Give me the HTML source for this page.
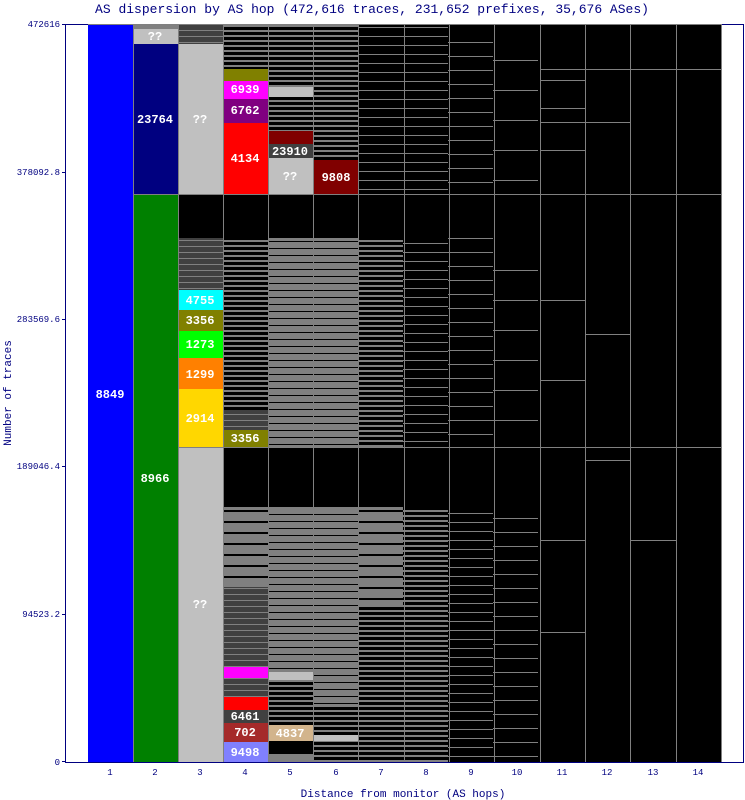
<!DOCTYPE html>
<html><head><style>
html,body{margin:0;padding:0;background:#fff;}
svg{display:block;font-family:"Liberation Mono","DejaVu Sans Mono",monospace;}
.l{fill:#fff;font-weight:bold;font-size:12px;text-anchor:middle;}
.a{fill:#000080;font-size:9px;}
</style></head><body>
<svg width="745" height="800" viewBox="0 0 745 800" xmlns="http://www.w3.org/2000/svg">
<defs>
<pattern id="pb" width="45" height="9" patternUnits="userSpaceOnUse"><rect width="45" height="9" fill="#000"/><rect y="0" width="45" height="1" fill="#808080"/></pattern>
<pattern id="pb2" width="45" height="5" patternUnits="userSpaceOnUse"><rect width="45" height="5" fill="#000"/><rect y="0" width="45" height="2" fill="#808080"/></pattern>
<pattern id="pg" width="45" height="7" patternUnits="userSpaceOnUse"><rect width="45" height="7" fill="#808080"/><rect y="3" width="45" height="1" fill="#000"/></pattern>
<pattern id="pg2" width="45" height="11" patternUnits="userSpaceOnUse"><rect width="45" height="11" fill="#808080"/><rect y="4" width="45" height="2" fill="#000"/></pattern>
<pattern id="pd" width="45" height="6" patternUnits="userSpaceOnUse"><rect width="45" height="6" fill="#404040"/><rect y="0" width="45" height="1" fill="#808080"/></pattern>
<pattern id="pbs" width="45" height="14" patternUnits="userSpaceOnUse"><rect width="45" height="14" fill="#000"/><rect y="0" width="45" height="1" fill="#808080"/></pattern>
<pattern id="pbl" width="45" height="30" patternUnits="userSpaceOnUse"><rect width="45" height="30" fill="#000"/><rect y="0" width="45" height="1" fill="#808080"/></pattern>
</defs>
<text x="372" y="13" fill="#000080" font-size="13" text-anchor="middle">AS dispersion by AS hop (472,616 traces, 231,652 prefixes, 35,676 ASes)</text>
<rect x="65.5" y="24.5" width="678" height="738" fill="#fff" stroke="#000080"/>
<rect x="88" y="24" width="634" height="738" fill="#000"/>
<rect x="88" y="24" width="45" height="738" fill="#0000ff"/>
<rect x="133" y="24" width="45" height="5" fill="#808080"/>
<rect x="133" y="29" width="45" height="15" fill="#c0c0c0"/>
<rect x="133" y="44" width="45" height="150" fill="#000080"/>
<rect x="133" y="194" width="45" height="568" fill="#008000"/>
<rect x="178" y="24" width="45" height="20" fill="url(#pd)"/>
<rect x="178" y="44" width="45" height="150" fill="#c0c0c0"/>
<rect x="178" y="238" width="45" height="52" fill="url(#pd)"/>
<rect x="178" y="290" width="45" height="20" fill="#00ffff"/>
<rect x="178" y="310" width="45" height="21" fill="#808000"/>
<rect x="178" y="331" width="45" height="27" fill="#00ff00"/>
<rect x="178" y="358" width="45" height="31" fill="#ff8000"/>
<rect x="178" y="389" width="45" height="58" fill="#ffd700"/>
<rect x="178" y="447" width="45" height="315" fill="#c0c0c0"/>
<rect x="223" y="24" width="45" height="45" fill="url(#pb2)"/>
<rect x="223" y="69" width="45" height="12" fill="#808000"/>
<rect x="223" y="81" width="45" height="18" fill="#ff00ff"/>
<rect x="223" y="99" width="45" height="24" fill="#800080"/>
<rect x="223" y="123" width="45" height="71" fill="#ff0000"/>
<rect x="223" y="238" width="45" height="172" fill="url(#pb2)"/>
<rect x="223" y="410" width="45" height="20" fill="url(#pd)"/>
<rect x="223" y="430" width="45" height="17" fill="#808000"/>
<rect x="223" y="507" width="45" height="80" fill="url(#pg2)"/>
<rect x="223" y="587" width="45" height="80" fill="url(#pd)"/>
<rect x="223" y="667" width="45" height="11" fill="#ff00ff"/>
<rect x="223" y="678" width="45" height="19" fill="url(#pd)"/>
<rect x="223" y="697" width="45" height="13" fill="#ff0000"/>
<rect x="223" y="710" width="45" height="13" fill="#404040"/>
<rect x="223" y="723" width="45" height="19" fill="#a52a2a"/>
<rect x="223" y="742" width="45" height="20" fill="#8080ff"/>
<rect x="268" y="24" width="45" height="107" fill="url(#pb2)"/>
<rect x="268" y="87" width="45" height="10" fill="#c0c0c0"/>
<rect x="268" y="131" width="45" height="13" fill="#800000"/>
<rect x="268" y="144" width="45" height="14" fill="#404040"/>
<rect x="268" y="158" width="45" height="36" fill="#c0c0c0"/>
<rect x="268" y="238" width="45" height="209" fill="url(#pg)"/>
<rect x="268" y="507" width="45" height="165" fill="url(#pg)"/>
<rect x="268" y="672" width="45" height="8" fill="#c0c0c0"/>
<rect x="268" y="680" width="45" height="45" fill="url(#pb2)"/>
<rect x="268" y="725" width="45" height="16" fill="#d2b48c"/>
<rect x="268" y="741" width="45" height="13" fill="#000"/>
<rect x="268" y="754" width="45" height="8" fill="#808080"/>
<rect x="313" y="24" width="45" height="136" fill="url(#pb2)"/>
<rect x="313" y="160" width="45" height="34" fill="#800000"/>
<rect x="313" y="238" width="45" height="209" fill="url(#pg)"/>
<rect x="313" y="507" width="45" height="200" fill="url(#pg)"/>
<rect x="313" y="707" width="45" height="55" fill="url(#pb2)"/>
<rect x="313" y="735" width="45" height="6" fill="#c0c0c0"/>
<rect x="358" y="24" width="45" height="170" fill="url(#pb)"/>
<rect x="358" y="238" width="45" height="209" fill="url(#pb2)"/>
<rect x="358" y="507" width="45" height="100" fill="url(#pg2)"/>
<rect x="358" y="607" width="45" height="155" fill="url(#pb2)"/>
<rect x="403" y="24" width="45" height="170" fill="url(#pb)"/>
<rect x="403" y="238" width="45" height="209" fill="url(#pb)"/>
<rect x="403" y="507" width="45" height="255" fill="url(#pb2)"/>
<rect x="448" y="40" width="45" height="154" fill="url(#pbs)"/>
<rect x="448" y="238" width="45" height="209" fill="url(#pbs)"/>
<rect x="448" y="507" width="45" height="255" fill="url(#pb)"/>
<rect x="493" y="56" width="45" height="138" fill="url(#pbl)"/>
<rect x="493" y="250" width="45" height="197" fill="url(#pbl)"/>
<rect x="493" y="515" width="45" height="247" fill="url(#pbs)"/>
<g stroke="#808080" stroke-width="1">
<line x1="540" y1="80.5" x2="585" y2="80.5"/><line x1="540" y1="108.5" x2="585" y2="108.5"/>
<line x1="540" y1="150.5" x2="585" y2="150.5"/><line x1="540" y1="300.5" x2="585" y2="300.5"/>
<line x1="540" y1="380.5" x2="585" y2="380.5"/><line x1="540" y1="540.5" x2="585" y2="540.5"/>
<line x1="540" y1="632.5" x2="585" y2="632.5"/>
<line x1="133.5" y1="24" x2="133.5" y2="762"/><line x1="178.5" y1="24" x2="178.5" y2="762"/>
<line x1="223.5" y1="24" x2="223.5" y2="762"/><line x1="268.5" y1="24" x2="268.5" y2="762"/>
<line x1="313.5" y1="24" x2="313.5" y2="762"/><line x1="358.5" y1="24" x2="358.5" y2="762"/>
<line x1="404.5" y1="24" x2="404.5" y2="762"/><line x1="449.5" y1="24" x2="449.5" y2="762"/>
<line x1="494.5" y1="24" x2="494.5" y2="762"/><line x1="540.5" y1="24" x2="540.5" y2="762"/>
<line x1="585.5" y1="24" x2="585.5" y2="762"/><line x1="630.5" y1="24" x2="630.5" y2="762"/>
<line x1="676.5" y1="24" x2="676.5" y2="762"/><line x1="721.5" y1="24" x2="721.5" y2="762"/>
<line x1="88" y1="24.5" x2="722" y2="24.5"/>
<line x1="133" y1="194.5" x2="722" y2="194.5"/>
<line x1="178" y1="447.5" x2="722" y2="447.5"/>
<line x1="540" y1="69.5" x2="722" y2="69.5"/>
<line x1="540" y1="122.5" x2="630" y2="122.5"/>
<line x1="585" y1="334.5" x2="630" y2="334.5"/>
<line x1="630" y1="540.5" x2="676" y2="540.5"/>
<line x1="585" y1="460.5" x2="630" y2="460.5"/>
<line x1="223" y1="507.5" x2="358" y2="507.5"/>
</g>
<text class="l" x="110" y="398">8849</text>
<text class="l" x="155" y="40">??</text>
<text class="l" x="155" y="123">23764</text>
<text class="l" x="155" y="482">8966</text>
<text class="l" x="200" y="123">??</text>
<text class="l" x="200" y="304">4755</text>
<text class="l" x="200" y="324">3356</text>
<text class="l" x="200" y="348">1273</text>
<text class="l" x="200" y="378">1299</text>
<text class="l" x="200" y="422">2914</text>
<text class="l" x="200" y="608">??</text>
<text class="l" x="245" y="93">6939</text>
<text class="l" x="245" y="114">6762</text>
<text class="l" x="245" y="162">4134</text>
<text class="l" x="245" y="442">3356</text>
<text class="l" x="245" y="720">6461</text>
<text class="l" x="245" y="736">702</text>
<text class="l" x="245" y="756">9498</text>
<text class="l" x="290" y="155">23910</text>
<text class="l" x="290" y="180">??</text>
<text class="l" x="290" y="737">4837</text>
<text class="l" x="336" y="181">9808</text>
<g stroke="#000080"><line x1="62" y1="24.5" x2="65" y2="24.5"/><line x1="62" y1="172.5" x2="65" y2="172.5"/><line x1="62" y1="319.5" x2="65" y2="319.5"/><line x1="62" y1="466.5" x2="65" y2="466.5"/><line x1="62" y1="614.5" x2="65" y2="614.5"/><line x1="62" y1="761.5" x2="65" y2="761.5"/></g>
<g class="a" text-anchor="end">
<text x="60" y="27">472616</text><text x="60" y="175">378092.8</text><text x="60" y="322">283569.6</text><text x="60" y="469">189046.4</text><text x="60" y="617">94523.2</text><text x="60" y="765">0</text>
</g>
<g class="a" text-anchor="middle">
<text x="110" y="775">1</text><text x="155" y="775">2</text><text x="200" y="775">3</text><text x="245" y="775">4</text><text x="290" y="775">5</text><text x="336" y="775">6</text><text x="381" y="775">7</text><text x="426" y="775">8</text><text x="471" y="775">9</text><text x="517" y="775">10</text><text x="562" y="775">11</text><text x="607" y="775">12</text><text x="653" y="775">13</text><text x="698" y="775">14</text>
</g>
<text x="403" y="797" fill="#000080" font-size="11" text-anchor="middle">Distance from monitor (AS hops)</text>
<text transform="translate(11,393) rotate(-90)" fill="#000080" font-size="11" text-anchor="middle">Number of traces</text>
</svg>
</body></html>
